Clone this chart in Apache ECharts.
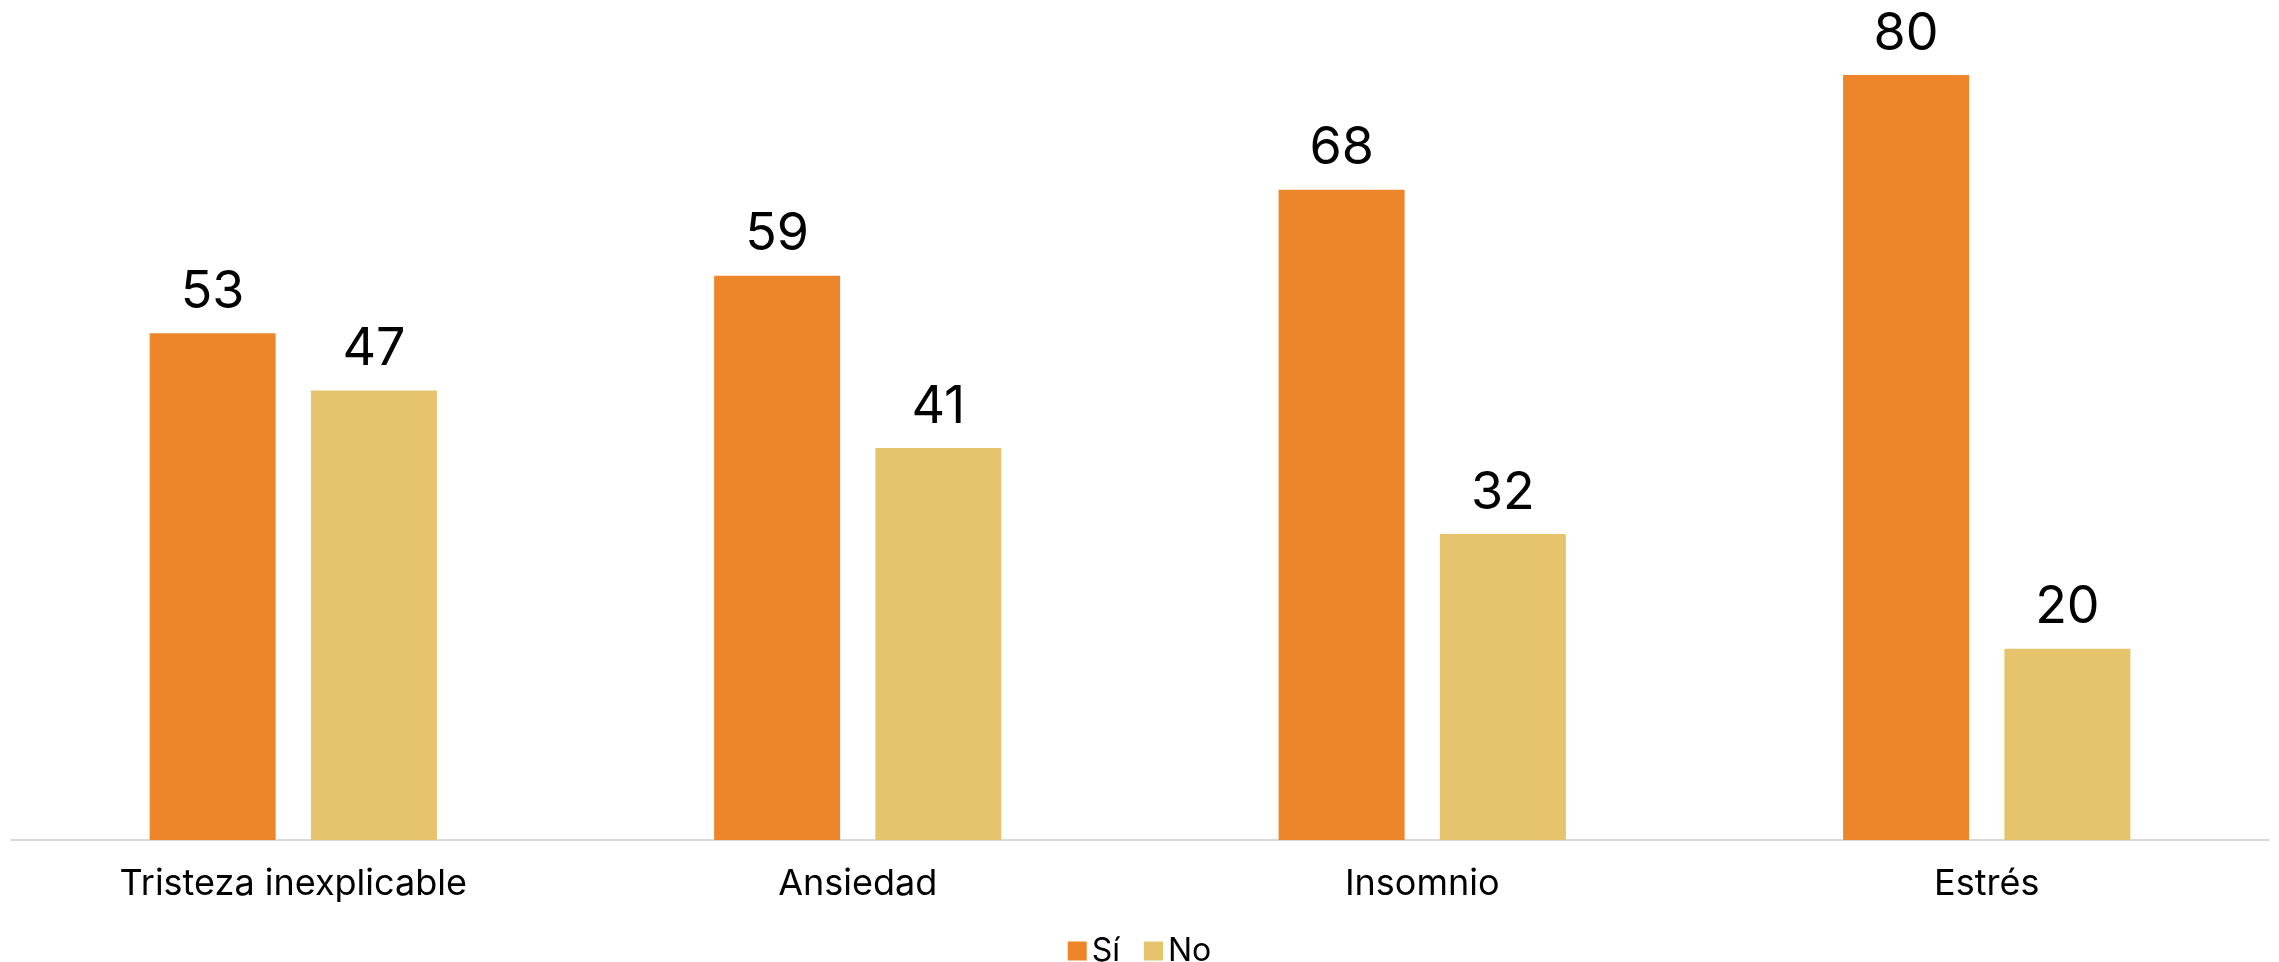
<!DOCTYPE html>
<html>
<head>
<meta charset="utf-8">
<script src="https://cdn.jsdelivr.net/npm/echarts@6/dist/echarts.min.js"></script>
<style>
  html, body { margin: 0; padding: 0; background: #ffffff; }
  #chart { width: 2279px; height: 962px; }
</style>
</head>
<body>
<div id="chart"></div>
<script>
// Síntomas y porcentaje de respuestas
const categories = ['Tristeza inexplicable', 'Ansiedad', 'Insomnio', 'Estrés'];
const seriesNames = ['Sí', 'No'];
const valuesSi = [53, 59, 68, 80];
const valuesNo = [47, 41, 32, 20];

const colorSi = '#ED862A';
const colorNo = '#E6C46E';

const chart = echarts.init(document.getElementById('chart'), null, { renderer: 'canvas' });

const labelStyle = {
  show: true,
  position: 'top',
  distance: 15,
  fontFamily: 'Inter, "Liberation Sans", sans-serif',
  fontSize: 52,
  color: '#000000'
};

chart.setOption({
  animation: false,
  backgroundColor: '#ffffff',
  grid: { left: 11, right: 10, top: 75, bottom: 122, containLabel: false },
  xAxis: {
    type: 'category',
    data: categories,
    axisLine: { show: true, lineStyle: { color: '#D9D9D9', width: 2 } },
    axisTick: { show: false },
    axisLabel: {
      margin: 26,
      fontFamily: 'Inter, "Noto Sans", sans-serif',
      fontSize: 36,
      color: '#000000'
    }
  },
  yAxis: {
    type: 'value',
    min: 0,
    max: 80,
    show: false,
    splitLine: { show: false }
  },
  legend: {
    data: seriesNames,
    left: 'center',
    top: 930,
    itemWidth: 19,
    itemHeight: 19,
    itemGap: 24,
    icon: 'rect',
    textStyle: {
      fontFamily: 'Inter, "Liberation Sans", sans-serif',
      fontSize: 32,
      color: '#000000'
    }
  },
  series: [
    {
      name: seriesNames[0],
      type: 'bar',
      data: valuesSi,
      barWidth: 126,
      barGap: '28%',
      itemStyle: { color: colorSi },
      label: labelStyle
    },
    {
      name: seriesNames[1],
      type: 'bar',
      data: valuesNo,
      barWidth: 126,
      barGap: '28%',
      itemStyle: { color: colorNo },
      label: labelStyle
    }
  ]
});
</script>
</body>
</html>
